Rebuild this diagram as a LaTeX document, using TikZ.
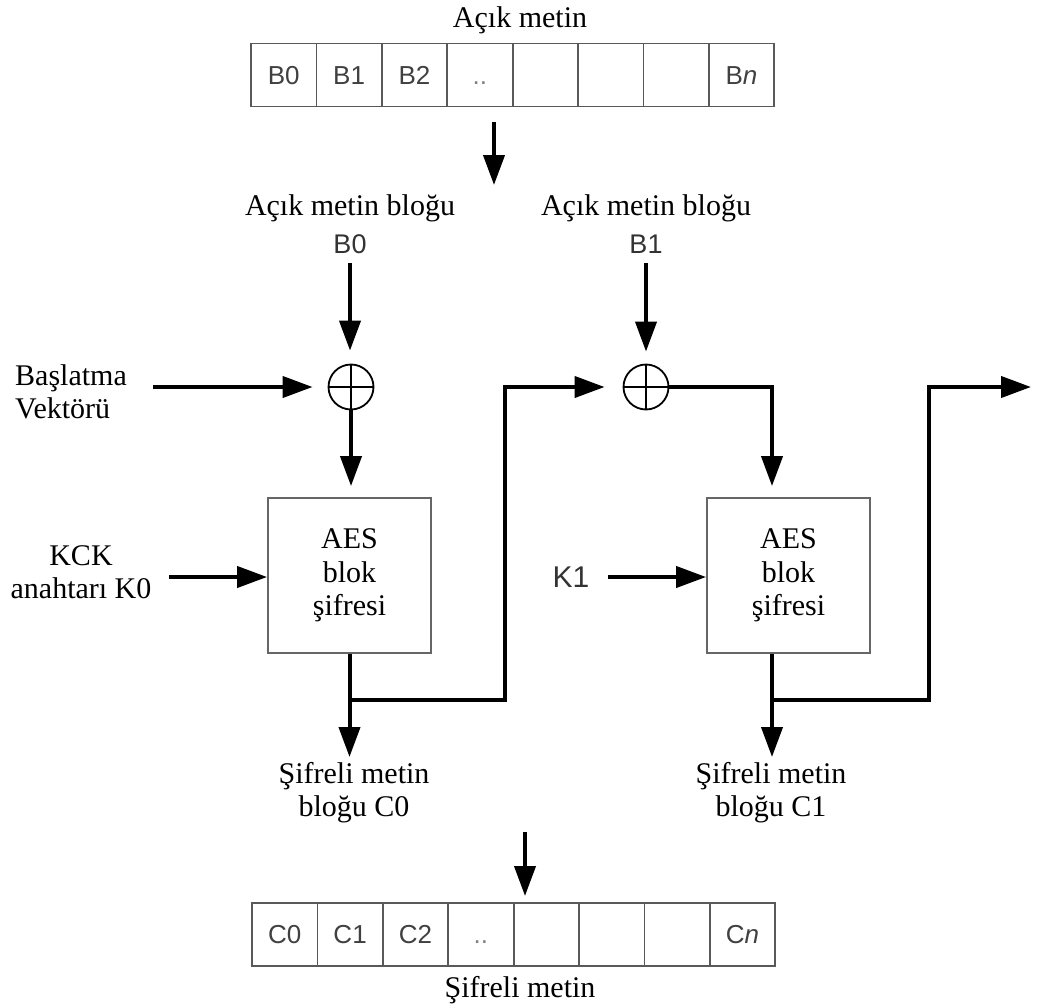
\documentclass[tikz,border=0pt]{standalone}
\usepackage{fontspec}
\setmainfont{Liberation Serif}
\newfontfamily\arialfont{Liberation Sans}
\usetikzlibrary{arrows.meta,calc}
\begin{document}
\begin{tikzpicture}[x=1pt,y=-1pt,
  lab/.style={font=\fontsize{30}{33}\selectfont, align=center, inner sep=0pt},
  sanslab/.style={font=\arialfont\fontsize{27}{32}\selectfont, text=black!80, inner sep=0pt},
  cell/.style={draw=black!65, line width=1.8pt, minimum width=65.4pt, minimum height=63pt, inner sep=0pt,
    text height=18.6pt, text depth=0pt, font=\arialfont\fontsize{26}{30}\selectfont, text=black!75},
  aesbox/.style={draw=black!60, line width=1.8pt, inner sep=0pt, font=\fontsize{30}{33.5}\selectfont, align=center},
  xor/.style={draw, circle, line width=1.8pt, minimum size=45pt, inner sep=0pt,
    path picture={\draw[line width=1.8pt] (path picture bounding box.north) -- (path picture bounding box.south)
      (path picture bounding box.west) -- (path picture bounding box.east);}},
  conn/.style={line width=4pt},
  arr/.style={conn, -{Triangle[length=30pt,width=21pt]}},
]
\useasboundingbox (0,0) rectangle (1038,1006);

% ---- top array (plaintext)
\node[lab, anchor=base] (ptitle) at (520,28) {Açık metin};
\node[cell] (p0) at (283.7,75) {B0};
\node[cell] (p1) at (349.1,75) {B1};
\node[cell] (p2) at (414.5,75) {B2};
\node[cell, text=black!50] (p3) at (479.9,75) {..};
\node[cell] (p4) at (545.3,75) {};
\node[cell] (p5) at (610.7,75) {};
\node[cell] (p6) at (676.1,75) {};
\node[cell] (p7) at (741.5,75) {B\textit{n}};
\coordinate (ta1) at (494,122);
\coordinate (ta2) at (494,185);
\draw[arr] (ta1) -- (ta2);

% ---- plaintext block labels
\node[lab, anchor=base] (lb0) at (350,215) {Açık metin bloğu};
\node[lab, anchor=base] (lb1) at (646,215) {Açık metin bloğu};
\node[sanslab] (B0) at (350,244) {B0};
\node[sanslab] (B1) at (646,244) {B1};

% ---- XORs
\node[xor] (xor1) at (351,387) {};
\node[xor] (xor2) at (646,387) {};

% ---- AES boxes
\node[aesbox, minimum width=163pt, minimum height=155pt] (aes1) at (349.5,575.5) {AES\\blok\\şifresi};
\node[aesbox, minimum width=163pt, minimum height=155pt] (aes2) at (788.5,575.5) {AES\\blok\\şifresi};

% ---- left inputs
\node[lab, align=left, anchor=west] (iv) at (15,392) {Başlatma\\Vektörü};
\node[lab] (kck) at (81,572) {KCK\\anahtarı K0};
\node[sanslab, font=\arialfont\fontsize{30}{34}\selectfont] (k1) at (571,577) {K1};
\coordinate (ivs) at (153,387);
\coordinate (kcks) at (169,577);
\coordinate (k1s) at (608,577);

\draw[arr, shorten >=13pt] (B0.south |- 0,263) -- (B0.south |- xor1.north);
\draw[arr, shorten >=12pt] (B1.south |- 0,263) -- (B1.south |- xor2.north);
\draw[arr, shorten >=15pt] (ivs) -- (xor1.west);
\draw[arr, shorten >=11pt] (xor1.south) -- (xor1.south |- aes1.north);
\draw[arr] (kcks) -- (kcks -| aes1.west);
\draw[arr] (k1s) -- (k1s -| aes2.west);

% ---- chaining
\coordinate (o1) at (349.5,757);
\coordinate (br1) at (349.5,700);
\coordinate (up1) at (505,700);
\draw[arr] (aes1.south) -- (o1);
\draw[arr, shorten >=18pt] (br1) -- (up1) -- (up1 |- xor2.west) -- (xor2.west);

\coordinate (c2) at (772,387);
\draw[arr, shorten >=11pt] (xor2.east) -- (c2) -- (c2 |- aes2.north);

\coordinate (o2) at (772,757);
\coordinate (br2) at (772,700);
\coordinate (up2) at (929,700);
\coordinate (outr) at (1031,387);
\draw[arr] (o2 |- aes2.south) -- (o2);
\draw[arr] (br2) -- (up2) -- (up2 |- outr) -- (outr);

% ---- ciphertext block labels
\node[lab] (lc0) at (354,793) {Şifreli metin\\bloğu C0};
\node[lab] (lc1) at (771,793) {Şifreli metin\\bloğu C1};

% ---- bottom array (ciphertext)
\coordinate (ba1) at (525,832);
\coordinate (ba2) at (525,896);
\draw[arr] (ba1) -- (ba2);
\node[cell] (c0) at (284.7,934.5) {C0};
\node[cell] (c1) at (350.1,934.5) {C1};
\node[cell] (c2n) at (415.5,934.5) {C2};
\node[cell, text=black!50] (c3) at (480.9,934.5) {..};
\node[cell] (c4) at (546.3,934.5) {};
\node[cell] (c5) at (611.7,934.5) {};
\node[cell] (c6) at (677.1,934.5) {};
\node[cell] (c7) at (742.5,934.5) {C\textit{n}};
\node[lab, anchor=base] (ctitle) at (520,997) {Şifreli metin};
\end{tikzpicture}
\end{document}
